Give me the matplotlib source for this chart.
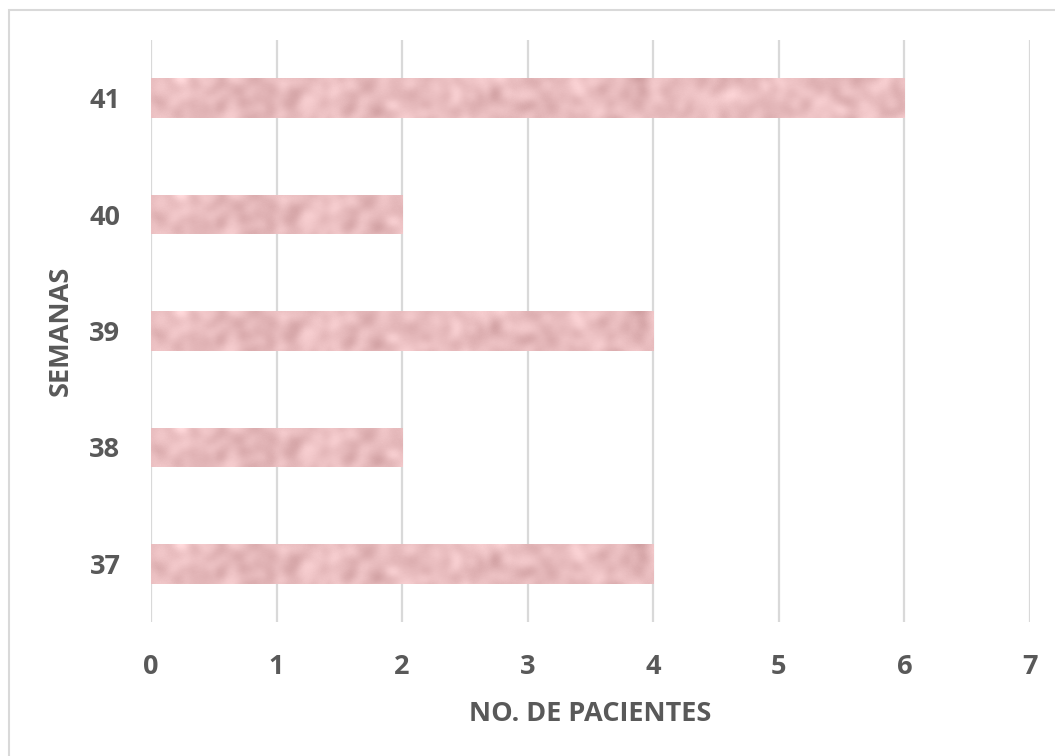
import matplotlib.pyplot as plt
from matplotlib.patches import Rectangle
import numpy as np

semanas = ['37', '38', '39', '40', '41']
pacientes = [4, 2, 4, 2, 6]

gris = '#595959'
plt.rcParams['font.family'] = ['Open Sans', 'DejaVu Sans']

fig = plt.figure(figsize=(10.55, 7.56), dpi=100)
ax = fig.add_axes([151/1055, 1 - 622/756, (1030-151)/1055, (622-40)/756])

pos = np.arange(len(semanas))
barras = ax.barh(pos, pacientes, height=0.34, color='#E8BBBD', zorder=2)

# textura moteada (tipo papel) dentro de cada barra
rng = np.random.default_rng(7)
ruido = rng.normal(size=(60, 950))
k = np.ones(9) / 9
for _ in range(3):
    ruido = np.apply_along_axis(lambda f: np.convolve(f, k, mode='same'), 1, ruido)
    ruido = np.apply_along_axis(lambda c: np.convolve(c, k, mode='same'), 0, ruido)
ruido = ruido[10:50]
ruido = (ruido - ruido.mean()) / ruido.std()
fino = rng.normal(size=ruido.shape) * 0.3
base = np.array([232, 188, 190]) / 255
textura = np.clip(base[None, None, :]
                  + (0.025 * ruido + 0.008 * fino)[:, :, None] * np.array([1, 1.2, 1.2]), 0, 1)
for b in barras:
    x0, y0 = b.get_x(), b.get_y()
    w, h = b.get_width(), b.get_height()
    im = ax.imshow(textura[:, :int(125*w)], extent=[x0, x0 + w, y0, y0 + h],
                   aspect='auto', zorder=3, interpolation='bilinear')
    im.set_clip_path(b)

ax.set_xlim(0, 7)
ax.set_ylim(-0.5, 4.5)
ax.set_xticks(range(8))
ax.set_yticks(pos)
ax.set_yticklabels(semanas)
ax.grid(axis='x', color='#D9D9D9', linewidth=1.6, zorder=0)
ax.set_axisbelow(True)
for s in ax.spines.values():
    s.set_visible(False)
ax.tick_params(length=0, labelsize=19.5, labelcolor=gris)
for t in ax.get_xticklabels() + ax.get_yticklabels():
    t.set_fontweight('bold')
ax.tick_params(axis='x', pad=23)
ax.tick_params(axis='y', pad=22)

ax.set_xlabel('NO. DE PACIENTES', fontsize=19.5, fontweight='bold', color=gris, labelpad=15)
ax.set_ylabel('SEMANAS', fontsize=19.5, fontweight='bold', color=gris, labelpad=11)

# marco del área del gráfico
fig.patches.append(Rectangle((9/1055, -0.1), 1.1, 1 - 10/756 + 0.1, transform=fig.transFigure,
                             fill=False, edgecolor='#D9D9D9', linewidth=1.5))

fig.savefig('out.png', dpi=100)
